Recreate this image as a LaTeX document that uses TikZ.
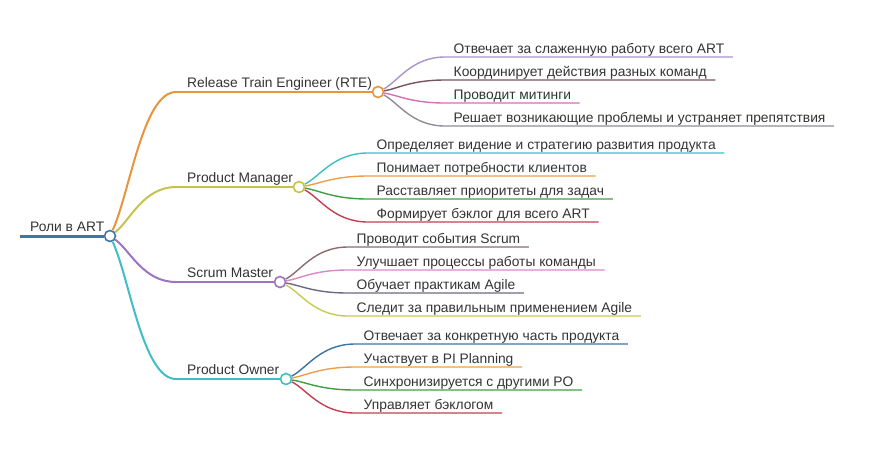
\documentclass[tikz,border=0pt]{standalone}
\usepackage{fontspec}
\setmainfont{Liberation Sans}
\usetikzlibrary{backgrounds}
\definecolor{txt}{HTML}{333333}
\definecolor{rootc}{HTML}{3A78A6}
\definecolor{rtec}{HTML}{E8943A}
\definecolor{pmc}{HTML}{C6C24C}
\definecolor{smc}{HTML}{9C74C0}
\definecolor{poc}{HTML}{40BEC8}
\definecolor{lavc}{HTML}{A894C8}
\definecolor{mauvec}{HTML}{76545E}
\definecolor{pinkc}{HTML}{D46FB8}
\definecolor{grayc}{HTML}{8E8C9C}
\definecolor{cyanc}{HTML}{40BEC8}
\definecolor{orc}{HTML}{EC9F48}
\definecolor{grc}{HTML}{3F9E45}
\definecolor{redc}{HTML}{C0404E}
\definecolor{brc}{HTML}{8C6A72}
\definecolor{lpinkc}{HTML}{D888C8}
\definecolor{dgrayc}{HTML}{6C6A80}
\definecolor{ygc}{HTML}{C8CA50}
\definecolor{bluec}{HTML}{3A74A4}
\tikzset{
  every node/.style={font=\fontsize{13.8}{16}\selectfont, text=txt},
  hub/.style={circle, draw, fill=white, line width=1.6pt, minimum size=11pt, inner sep=0pt},
  lbl/.style={anchor=base west, inner sep=0pt},
  leaftext/.style={anchor=base west, inner xsep=8.5pt, inner ysep=0pt},
  mainline/.style={line width=2pt},
  leafline/.style={line width=1.4pt},
}
% edge: style, from, x0, y0, to, x1, y1
\newcommand\mmedge[7]{%
  \draw[#1] (#2) .. controls ({#3+0.3*(#6-#3)},{#4+0.3*(#7-#4)}) and ({(#3+#6)/2},#7) .. (#5);}
% leaf: name, parent, parentx, parenty, startx, y, style, text
\newcommand\mmleaf[8]{%
  \coordinate (#1s) at (#5,#6);
  \node[leaftext] (#1) at (#5,#6-4) {#8};
  \begin{pgfonlayer}{background}
  \draw[leafline,#7] (#2) .. controls ({#3+0.3*(#5-#3)},{#4+0.3*(#6-#4)}) and ({(#3+#5)/2},#6) .. (#1s) -- (#1s -| #1.east);
  \end{pgfonlayer}}
\begin{document}
\begin{tikzpicture}[x=1pt,y=-1pt]
\useasboundingbox (0,0) rectangle (872,448);
% root
\coordinate (rootstart) at (20,236);
\node[hub, draw=rootc] (root) at (110,236) {};
\node[lbl] (roott) at (30,231) {Роли в ART};
% main hubs
\coordinate (rtes) at (176,92);
\node[hub, draw=rtec] (rte) at (378,92) {};
\node[lbl] (rtet) at (187,87) {Release Train Engineer (RTE)};
\coordinate (pms) at (176,187);
\node[hub, draw=pmc] (pm) at (299,187) {};
\node[lbl] (pmt) at (187,182) {Product Manager};
\coordinate (sms) at (176,282);
\node[hub, draw=smc] (sm) at (280,282) {};
\node[lbl] (smt) at (187,277) {Scrum Master};
\coordinate (pos) at (176,379);
\node[hub, draw=poc] (po) at (286,379) {};
\node[lbl] (pot) at (187,374) {Product Owner};
\begin{pgfonlayer}{background}
\draw[rootc, line width=3pt] (rootstart) -- (root);
\mmedge{mainline,rtec}{root}{110}{236}{rtes}{176}{92}
\draw[mainline,rtec] (rtes) -- (rte);
\mmedge{mainline,pmc}{root}{110}{236}{pms}{176}{187}
\draw[mainline,pmc] (pms) -- (pm);
\mmedge{mainline,smc}{root}{110}{236}{sms}{176}{282}
\draw[mainline,smc] (sms) -- (sm);
\mmedge{mainline,poc}{root}{110}{236}{pos}{176}{379}
\draw[mainline,poc] (pos) -- (po);
\end{pgfonlayer}
% RTE leaves
\mmleaf{ra}{rte}{378}{92}{445}{57}{lavc}{Отвечает за слаженную работу всего ART}
\mmleaf{rb}{rte}{378}{92}{445}{80}{mauvec}{Координирует действия разных команд}
\mmleaf{rc}{rte}{378}{92}{445}{103}{pinkc}{Проводит митинги}
\mmleaf{rd}{rte}{378}{92}{445}{126}{grayc}{Решает возникающие проблемы и устраняет препятствия}
% PM leaves
\mmleaf{pa}{pm}{299}{187}{368}{153}{cyanc}{Определяет видение и стратегию развития продукта}
\mmleaf{pb}{pm}{299}{187}{368}{176}{orc}{Понимает потребности клиентов}
\mmleaf{pc}{pm}{299}{187}{368}{199}{grc}{Расставляет приоритеты для задач}
\mmleaf{pd}{pm}{299}{187}{368}{222}{redc}{Формирует бэклог для всего ART}
% SM leaves
\mmleaf{sa}{sm}{280}{282}{348}{247}{brc}{Проводит события Scrum}
\mmleaf{sb}{sm}{280}{282}{348}{270}{lpinkc}{Улучшает процессы работы команды}
\mmleaf{sc}{sm}{280}{282}{348}{293}{dgrayc}{Обучает практикам Agile}
\mmleaf{sd}{sm}{280}{282}{348}{316}{ygc}{Следит за правильным применением Agile}
% PO leaves
\mmleaf{oa}{po}{286}{379}{355}{344}{bluec}{Отвечает за конкретную часть продукта}
\mmleaf{ob}{po}{286}{379}{355}{367}{orc}{Участвует в PI Planning}
\mmleaf{oc}{po}{286}{379}{355}{390}{grc}{Синхронизируется с другими PO}
\mmleaf{od}{po}{286}{379}{355}{413}{redc}{Управляет бэклогом}
\end{tikzpicture}
\end{document}
